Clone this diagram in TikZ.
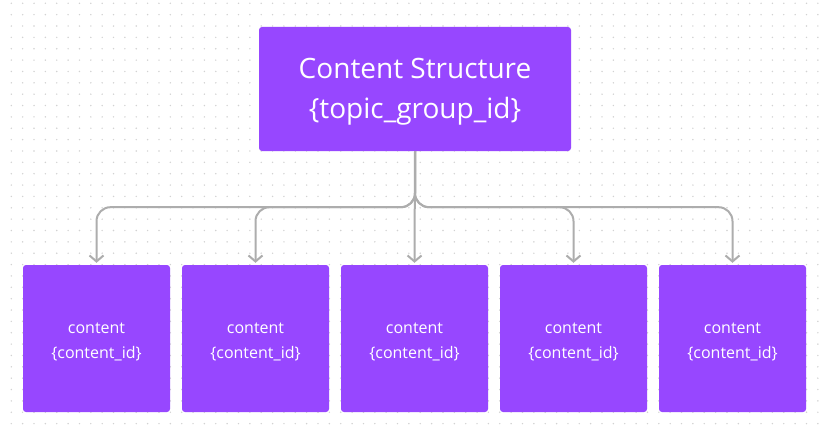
\documentclass[tikz,border=0pt]{standalone}
\usepackage{fontspec}
\setmainfont{Open Sans}
\usetikzlibrary{arrows.meta}
\definecolor{figpurple}{HTML}{9747FF}
\definecolor{conn}{HTML}{ADADAD}
\definecolor{griddot}{HTML}{D2D2D2}
\begin{document}
\begin{tikzpicture}[x=1pt,y=-1pt,
  topbox/.style={rectangle, rounded corners=3pt, fill=figpurple,
    minimum width=312pt, minimum height=124pt, inner sep=0pt},
  toptext/.style={text=white, inner sep=0pt, align=center,
    font=\fontsize{28}{40}\selectfont},
  childbox/.style={rectangle, rounded corners=3pt, fill=figpurple,
    minimum width=147pt, minimum height=147pt, inner sep=0pt},
  childtext/.style={text=white, inner sep=0pt, align=center,
    font=\fontsize{16}{25}\selectfont},
  connector/.style={draw=conn, line width=2pt, rounded corners=14pt,
    -{Straight Barb[length=6pt,width=14pt,line width=2pt]}, shorten >=2pt}]
\fill[white] (0,0) rectangle (828,428);
\useasboundingbox (0,0) rectangle (828,428);
\foreach \i in {0,...,71}{
  \foreach \j in {0,...,37}{
    \fill[griddot] (11.3+\i*11.36, 3.3+\j*11.36) circle (0.8pt);
  }
}
\node[topbox] (top) at (415,89) {};
\node[toptext] (toplabel) at ([yshift=-3pt]top.center) {Content Structure\\\{topic\_group\_id\}};
\foreach \k/\x in {1/96.5,2/255.5,3/414.5,4/573.5,5/732.5}{
  \node[childbox] (c\k) at (\x,338.5) {};
  \node[childtext] (c\k label) at ([yshift=-3pt]c\k.center) {content\\\{content\_id\}};
}
\coordinate (j) at ([yshift=-56pt]top.south);
\draw[connector] (top.south) -- (j) -| (c1.north);
\draw[connector] (top.south) -- (j) -| (c2.north);
\draw[connector] (top.south) -- (c3.north);
\draw[connector] (top.south) -- (j) -| (c4.north);
\draw[connector] (top.south) -- (j) -| (c5.north);
\end{tikzpicture}
\end{document}
